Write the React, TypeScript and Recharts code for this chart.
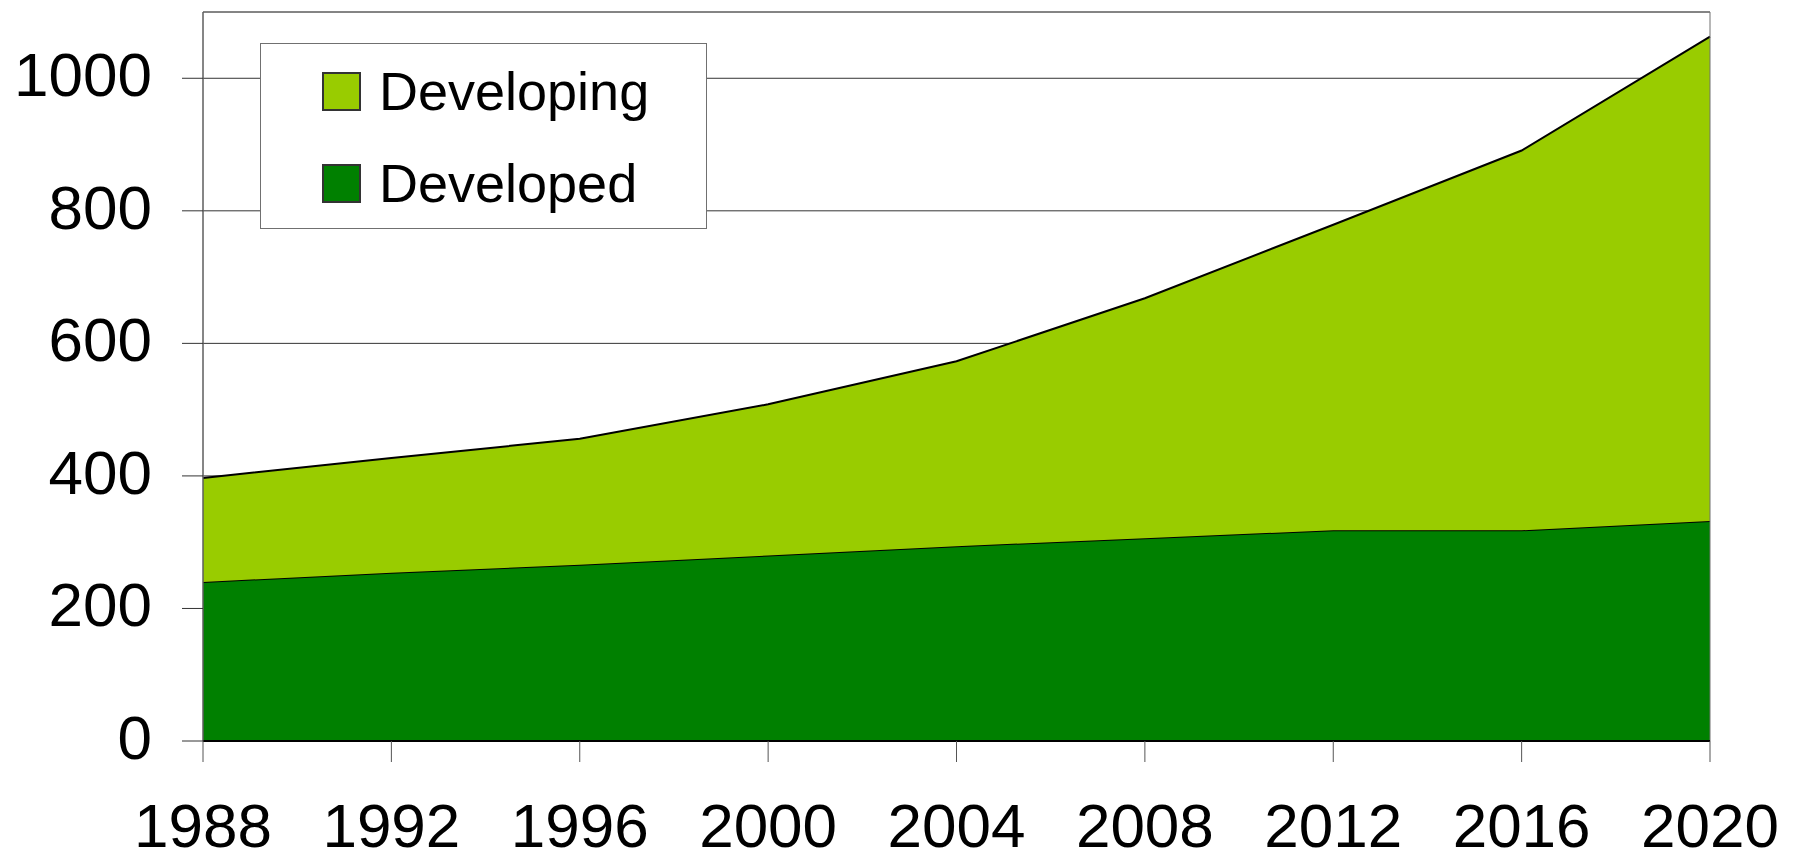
import { AreaChart, Area, XAxis, YAxis, CartesianGrid, Legend, ReferenceArea } from 'recharts';

// Survey years
const years = [1988, 1992, 1996, 2000, 2004, 2008, 2012, 2016, 2020];

// Values per group, stacked: developed at the bottom, developing on top
const developed = [240, 254, 266, 280, 294, 306, 318, 318, 332];
const developing = [157, 173, 190, 228, 279, 362, 461, 573, 731];

const yTicks = [0, 200, 400, 600, 800, 1000];

const seriesColors = {
  developing: '#99cc00',
  developed: '#008000',
};

const FONT = '"Liberation Sans", Arial, sans-serif';

const chartData = years.map((year, i) => ({
  year,
  Developed: developed[i],
  Developing: developing[i],
}));

function LegendBox() {
  const rows = [
    { label: 'Developing', color: seriesColors.developing },
    { label: 'Developed', color: seriesColors.developed },
  ];
  return (
    <div
      style={{
        width: 447,
        height: 186,
        boxSizing: 'border-box',
        border: '1px solid #707070',
        background: '#fff',
        paddingTop: 16,
        paddingLeft: 61,
      }}
    >
      {rows.map((r) => (
        <div key={r.label} style={{ display: 'flex', alignItems: 'center', height: 92 }}>
          <div
            style={{
              width: 39,
              height: 39,
              boxSizing: 'border-box',
              background: r.color,
              border: '2px solid #333',
              marginTop: -30,
            }}
          />
          <span
            style={{
              fontFamily: FONT,
              fontSize: 54,
              color: '#000',
              marginLeft: 18,
              marginTop: -30,
              lineHeight: 1,
            }}
          >
            {r.label}
          </span>
        </div>
      ))}
    </div>
  );
}

export default function App() {
  const tickStyle = { fontFamily: FONT, fontSize: 62, fill: '#000' };
  // negative bottom margin keeps the page from scrolling with the taller svg
  return (
    <div style={{ width: 1783, height: 851, marginBottom: -6 }}>
      <AreaChart
        width={1783}
        height={851}
        data={chartData}
        margin={{ top: 4, right: 81, left: 0, bottom: 0 }}
      >
        <CartesianGrid vertical={false} stroke="#333" strokeWidth={1} />
        <XAxis
          dataKey="year"
          type="number"
          domain={[1988, 2020]}
          ticks={years}
          interval={0}
          height={118}
          tickSize={21}
          tickMargin={41}
          tick={tickStyle}
          axisLine={{ stroke: '#000', strokeWidth: 2 }}
          tickLine={{ stroke: '#555' }}
        />
        <YAxis
          domain={[0, 1100]}
          ticks={yTicks}
          interval={0}
          width={195}
          tickSize={21}
          tickMargin={30}
          tick={{ ...tickStyle, dy: -4 }}
          axisLine={{ stroke: '#555' }}
          tickLine={{ stroke: '#333' }}
        />
        <Area
          type="linear"
          dataKey="Developed"
          stackId="1"
          fill={seriesColors.developed}
          fillOpacity={1}
          stroke="#000"
          strokeWidth={2}
          isAnimationActive={false}
        />
        <Area
          type="linear"
          dataKey="Developing"
          stackId="1"
          fill={seriesColors.developing}
          fillOpacity={1}
          stroke="#000"
          strokeWidth={2}
          isAnimationActive={false}
        />
        <ReferenceArea
          x1={1988}
          x2={2020}
          y1={0}
          y2={1100}
          fill="none"
          stroke="#707070"
          strokeWidth={1}
          ifOverflow="visible"
        />
        {/* horizontal + middle keeps the legend from reserving space in the plot */}
        <Legend
          content={<LegendBox />}
          layout="horizontal"
          verticalAlign="middle"
          align="center"
          wrapperStyle={{ left: 252, top: 35, width: 447 }}
        />
      </AreaChart>
    </div>
  );
}
